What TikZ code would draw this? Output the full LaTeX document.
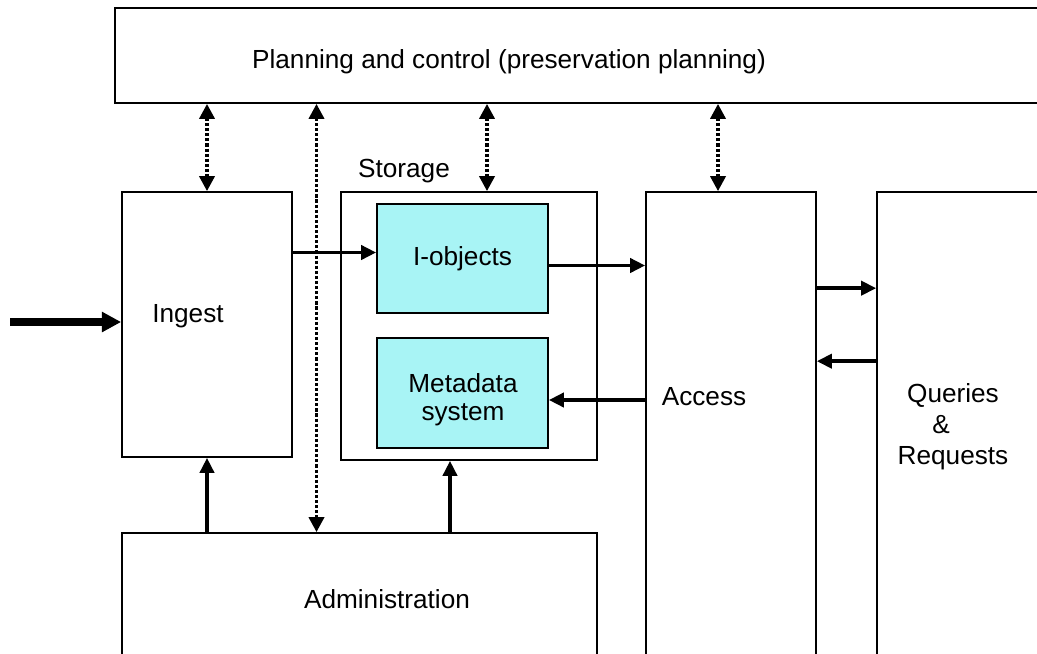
\documentclass[tikz,border=0pt]{standalone}
\usepackage{fontspec}
\setmainfont{Liberation Sans}
\usetikzlibrary{arrows.meta, positioning, calc}
\definecolor{objcyan}{HTML}{A8F4F5}
\definecolor{ink}{HTML}{000000}

\tikzset{
  box/.style={draw=ink, line width=1pt, inner sep=0pt},
  cyanbox/.style={box, fill=objcyan},
  lbl/.style={text=ink, font=\fontsize{14.9}{17.6}\selectfont, align=center, inner sep=0pt},
  arr/.style={draw=ink, line width=2pt, -{Triangle[length=8.5pt, width=8pt]}},
  dotarr/.style={draw=ink, line width=2pt, dash pattern=on 1.8pt off 1.1pt,
    {Triangle[length=8.5pt, width=8.5pt]}-{Triangle[length=8.5pt, width=8.5pt]}},
  bigarr/.style={draw=ink, line width=4.8pt, -{Triangle[length=11pt, width=11pt]}}
}

\begin{document}
\begin{tikzpicture}[x=0.02cm, y=-0.02cm]

% Frame
\useasboundingbox (0,0) rectangle (1037,653);
\clip (0,0) rectangle (1037,653);

% Planning and control
\node[box, minimum width=18.9cm, minimum height=1.9cm] (plan) at (587.5,55.5) {};
\node[lbl] (plantext) at (509,62) {Planning and control (preservation planning)};

% Ingest
\node[box, minimum width=3.4cm, minimum height=5.3cm] (ingest) at (207,324.5) {};
\node[lbl] (ingesttext) at (188,316) {Ingest};

% Storage with I-objects and metadata
\node[box, minimum width=5.12cm, minimum height=5.36cm] (storage) at (469,326) {};
\node[lbl] (storagetext) at (404,171) {Storage};
\node[cyanbox, lbl, minimum width=3.42cm, minimum height=2.18cm] (iobj) at (462.5,258.5) {I-objects};
\node[cyanbox, minimum width=3.42cm, minimum height=2.2cm] (meta) at (462.5,393) {};
\node[lbl, font=\fontsize{14.9}{15.9}\selectfont] (metatext) at (463,400) {Metadata\\system};

% Access
\node[box, minimum width=3.4cm, minimum height=10.16cm] (access) at (731,446) {};
\node[lbl] (accesstext) at (704,397) {Access};

% Queries & Requests
\node[box, minimum width=4.46cm, minimum height=10.16cm] (queries) at (988.5,446) {};
\node[lbl] (queriestext) at (953,427) {Queries\\\&\rule{0.48cm}{0pt}\\Requests};

% Administration
\node[box, minimum width=9.5cm, minimum height=3.34cm] (admin) at (359.5,616.5) {};
\node[lbl] (admintext) at (387,599) {Administration};

% Helper coordinates
\coordinate (src) at (10,322);
\coordinate (gap) at ($(ingest.east)!0.5!(storage.west)$);
\coordinate (stortop) at ($(storage.north)+(18,0)$);
\coordinate (acctop) at ($(access.north)+(-13,0)$);
\coordinate (storbot) at ($(storage.south)+(-19,0)$);
\coordinate (inobj) at ($(iobj.west)+(0,-6)$);
\coordinate (outobj) at ($(iobj.east)+(0,7)$);
\coordinate (inmeta) at ($(meta.east)+(0,7)$);
\coordinate (toq) at ($(access.north east)+(0,97)$);
\coordinate (fromq) at ($(queries.north west)+(0,170)$);

% Dotted links to planning
\draw[dotarr] (ingest.north |- plan.south) -- (ingest.north);
\draw[dotarr] (gap |- plan.south) -- (gap |- admin.north);
\draw[dotarr] (stortop |- plan.south) -- (stortop);
\draw[dotarr] (acctop |- plan.south) -- (acctop);

% Input arrow
\draw[bigarr] (src) -- (src -| ingest.west);

% Flow arrows
\draw[arr] (inobj -| ingest.east) -- (inobj);
\draw[arr] (outobj) -- (outobj -| access.west);
\draw[arr] (inmeta -| access.west) -- (inmeta);
\draw[arr] (toq) -- (toq -| queries.west);
\draw[arr] (fromq) -- (fromq -| access.east);

% Administration arrows
\draw[arr] (ingest.south |- admin.north) -- (ingest.south);
\draw[arr] (storbot |- admin.north) -- (storbot);

\end{tikzpicture}
\end{document}
